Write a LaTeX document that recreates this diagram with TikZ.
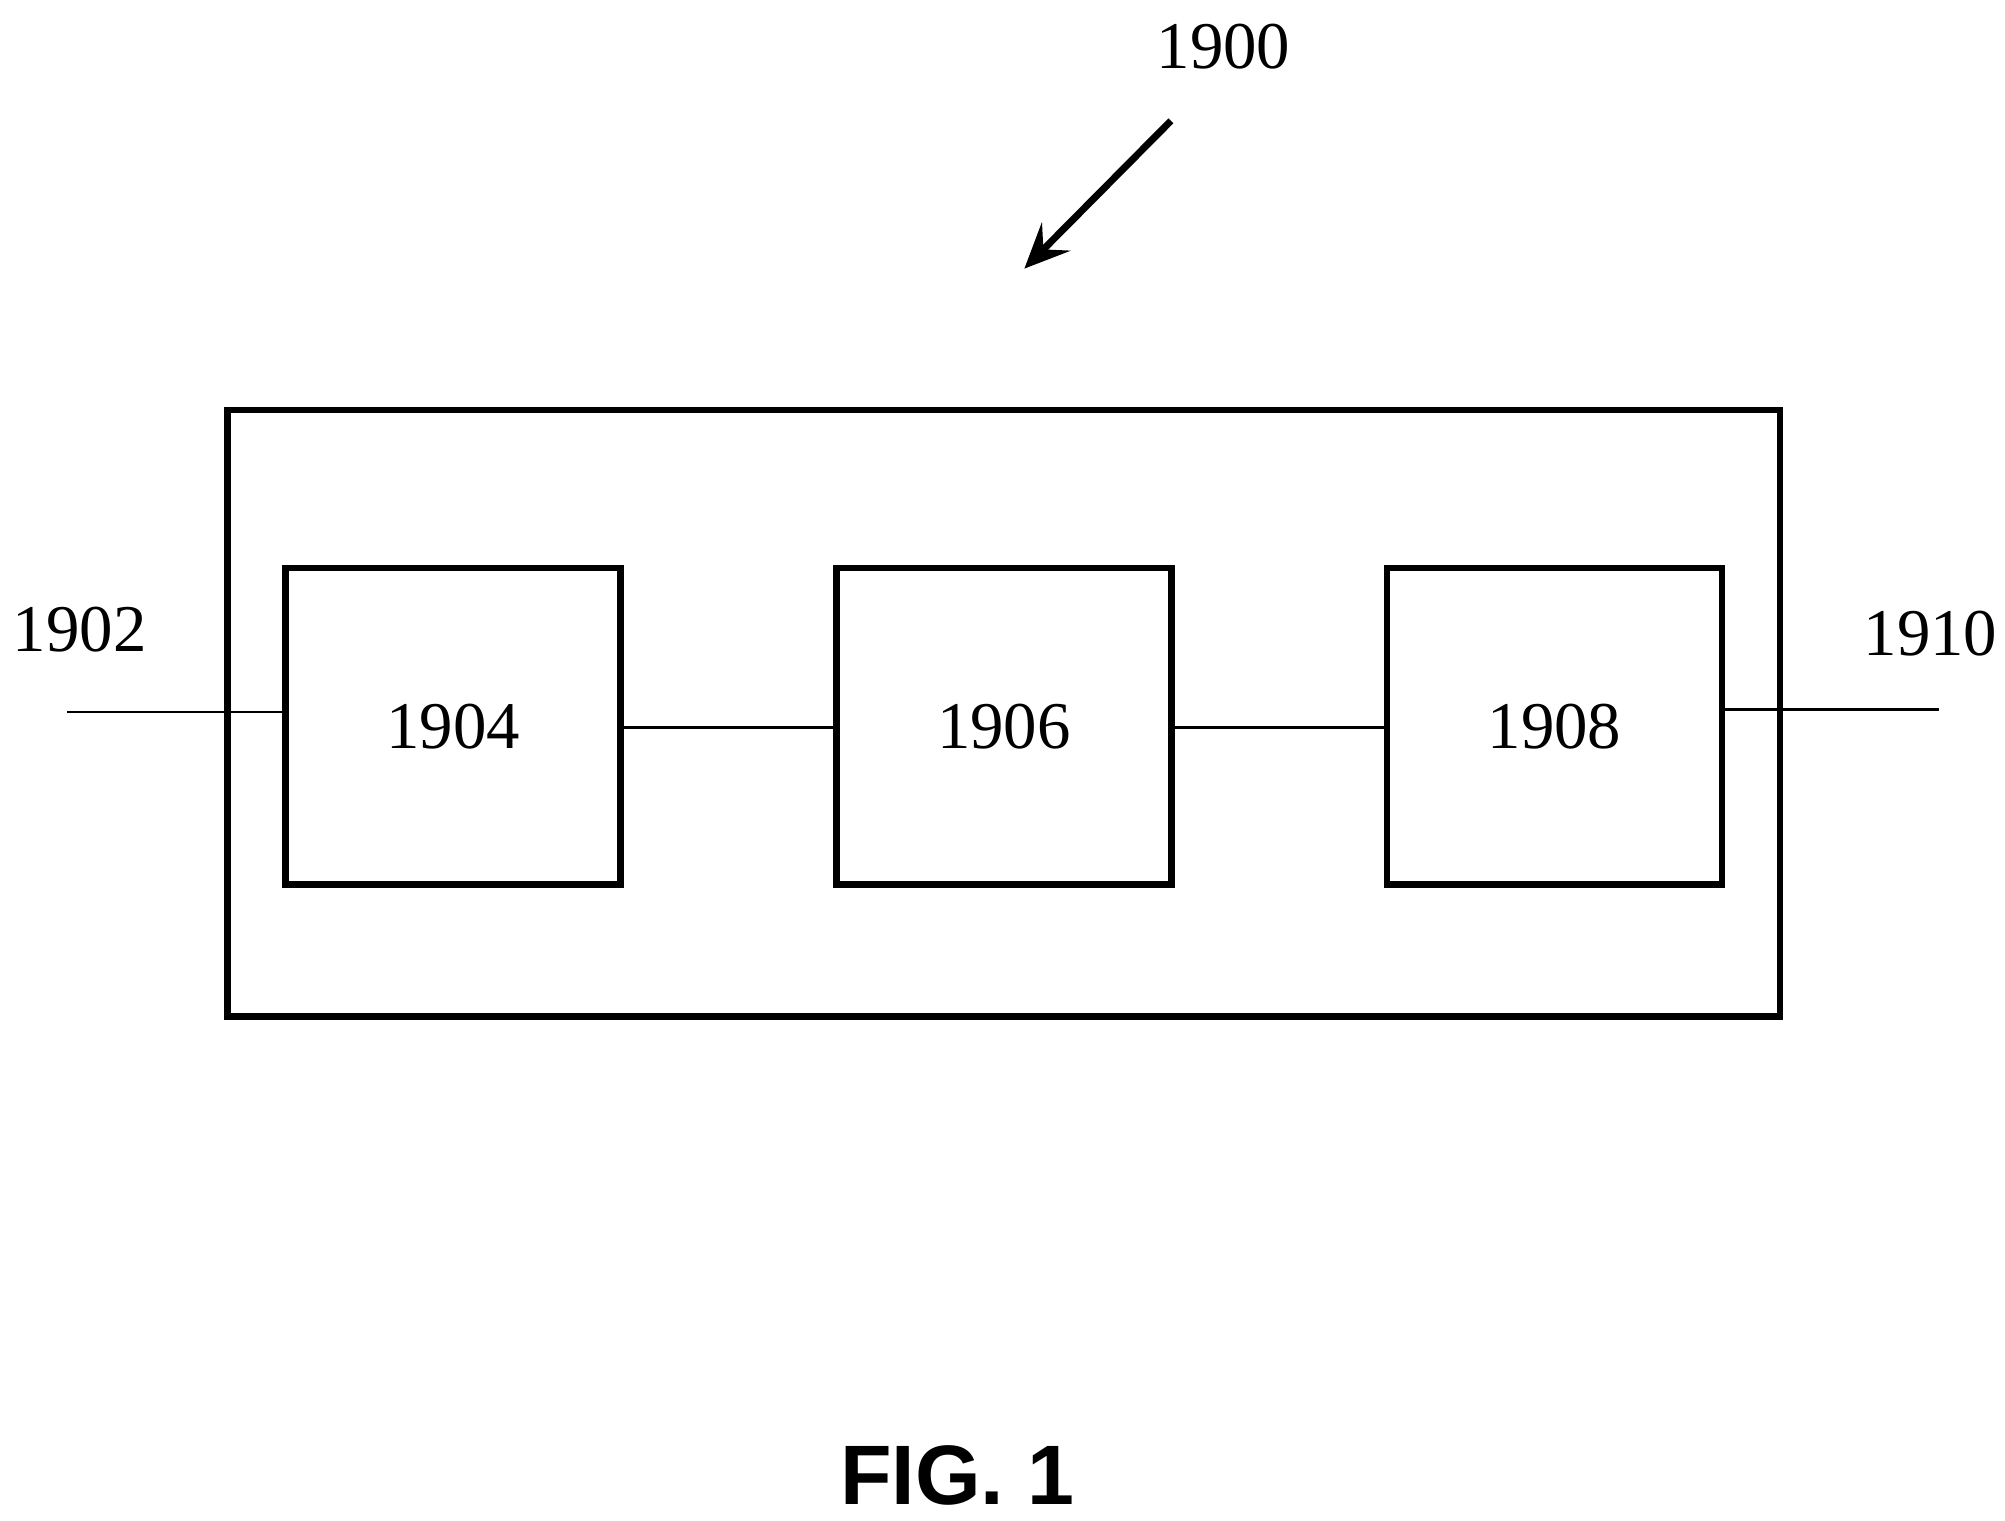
\documentclass[tikz,border=0pt]{standalone}
\usepackage{fontspec}
\setmainfont{Liberation Serif}
\setsansfont{Liberation Sans}
\usetikzlibrary{positioning,arrows.meta}
\tikzset{
  blk/.style={draw,line width=1.9pt,minimum width=3.35cm,minimum height=3.16cm,inner sep=0pt,font=\fontsize{19}{23}\selectfont},
  lbl/.style={font=\fontsize{19}{23}\selectfont,inner sep=0pt},
  wire/.style={line width=0.8pt}
}
\begin{document}
\begin{tikzpicture}[x=0.012853cm,y=-0.012853cm]
\useasboundingbox (0,0) rectangle (1560,1183);
\draw[line width=1.9pt] (177,319) rectangle (1385,791);
\node[blk] (b1) at (352.5,565) {1904};
\node[blk] (b2) at (781,565) {1906};
\node[blk] (b3) at (1209.5,565) {1908};
\coordinate (in) at (52,554);
\coordinate (out) at (1509,552);
\draw[wire] (in) -- (in -| b1.west);
\draw[wire] (b1.east |- 0,566) -- (b2.west |- 0,566);
\draw[wire] (b2.east |- 0,566) -- (b3.west |- 0,566);
\draw[wire] (b3.east |- out) -- (out);
\node[lbl] (l1900) at (952,36) {1900};
\node[lbl] (l1902) at (62,490) {1902};
\node[lbl] (l1910) at (1502,493) {1910};
\coordinate (a1) at (911,94);
\coordinate (a2) at (797,209);
\draw[line width=2pt,-{Stealth[length=4.5mm,width=4mm,inset=1.8mm]}] (a1) -- (a2);
\node[font=\sffamily\bfseries\fontsize{24}{28}\selectfont] (fig) at (745,1148) {FIG. 1};
\end{tikzpicture}
\end{document}
